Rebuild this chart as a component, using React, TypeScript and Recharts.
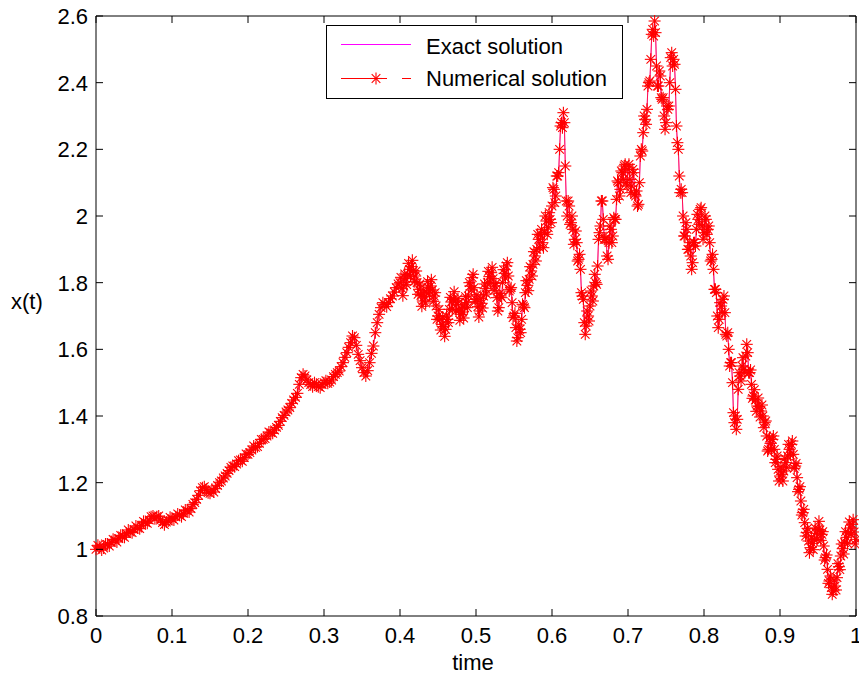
import React from "react";
import { LineChart, Line, XAxis, YAxis } from "recharts";

// [time, x(t)], split into stretches
const rampSegment: [number, number][] = [
  [0.0, 1.0], [0.0025, 1.012], [0.005, 1.008], [0.0075, 0.998], [0.01, 1.004],
  [0.0125, 1.016], [0.015, 1.015], [0.0175, 1.01], [0.02, 1.02], [0.0225, 1.03],
  [0.025, 1.028], [0.0275, 1.022], [0.03, 1.032], [0.0325, 1.042], [0.035, 1.04],
  [0.0375, 1.036], [0.04, 1.047], [0.0425, 1.058], [0.045, 1.052], [0.0475, 1.05],
  [0.05, 1.06], [0.0525, 1.07], [0.055, 1.064], [0.0575, 1.062], [0.06, 1.072],
  [0.0625, 1.084], [0.065, 1.08], [0.0675, 1.078], [0.07, 1.088], [0.0725, 1.098],
  [0.075, 1.1], [0.0775, 1.092], [0.08, 1.098], [0.0825, 1.1], [0.085, 1.088],
  [0.0875, 1.08], [0.09, 1.074], [0.0925, 1.082], [0.095, 1.085], [0.0975, 1.096],
  [0.1, 1.092], [0.1025, 1.088], [0.105, 1.098], [0.1075, 1.106], [0.11, 1.102],
  [0.1125, 1.098], [0.115, 1.108], [0.1175, 1.118], [0.12, 1.116], [0.1225, 1.112],
  [0.125, 1.122], [0.1275, 1.135], [0.13, 1.14], [0.1325, 1.15], [0.135, 1.162],
  [0.1375, 1.176], [0.14, 1.185], [0.1425, 1.188], [0.145, 1.178], [0.1475, 1.17],
  [0.15, 1.168], [0.1525, 1.18], [0.155, 1.172], [0.1575, 1.182], [0.16, 1.192],
  [0.1625, 1.2], [0.165, 1.205], [0.1675, 1.214], [0.17, 1.22], [0.1725, 1.228],
  [0.175, 1.236], [0.1775, 1.246], [0.18, 1.25], [0.1825, 1.248], [0.185, 1.256],
  [0.1875, 1.266], [0.19, 1.268], [0.1925, 1.264], [0.195, 1.275], [0.1975, 1.286],
  [0.2, 1.285], [0.2025, 1.29], [0.205, 1.298], [0.2075, 1.31], [0.21, 1.306],
  [0.2125, 1.308], [0.215, 1.318], [0.2175, 1.33], [0.22, 1.33], [0.2225, 1.332],
  [0.225, 1.34], [0.2275, 1.352], [0.23, 1.35], [0.2325, 1.348], [0.235, 1.358],
  [0.2375, 1.366], [0.24, 1.372], [0.2425, 1.384], [0.245, 1.395], [0.2475, 1.402],
  [0.25, 1.412], [0.2525, 1.418], [0.255, 1.425], [0.2575, 1.438], [0.26, 1.448],
  [0.2625, 1.456], [0.265, 1.468], [0.2675, 1.495], [0.27, 1.515], [0.2725, 1.525],
  [0.275, 1.52], [0.2775, 1.508], [0.28, 1.5], [0.2825, 1.494], [0.285, 1.488],
  [0.2875, 1.5], [0.29, 1.495], [0.2925, 1.488], [0.295, 1.485], [0.2975, 1.494],
  [0.3, 1.5], [0.3025, 1.506], [0.305, 1.498], [0.3075, 1.502], [0.31, 1.508],
  [0.3125, 1.518], [0.315, 1.525], [0.3175, 1.53], [0.32, 1.535], [0.3225, 1.548],
  [0.325, 1.56], [0.3275, 1.576], [0.33, 1.59], [0.3325, 1.606], [0.335, 1.62],
  [0.3375, 1.64], [0.34, 1.635], [0.3425, 1.612], [0.345, 1.585], [0.3475, 1.566],
  [0.35, 1.545], [0.3525, 1.53], [0.355, 1.52], [0.3575, 1.536], [0.36, 1.56],
  [0.3625, 1.588], [0.365, 1.61], [0.3675, 1.65], [0.37, 1.68], [0.3725, 1.705],
  [0.375, 1.725], [0.3775, 1.74], [0.38, 1.735], [0.3825, 1.728], [0.385, 1.74],
  [0.3875, 1.752], [0.39, 1.76], [0.3925, 1.772], [0.395, 1.785], [0.3975, 1.796],
];

const plateauSegment: [number, number][] = [
  [0.4, 1.8], [0.4025, 1.782], [0.405, 1.79], [0.4075, 1.812], [0.41, 1.825],
  [0.4125, 1.84], [0.415, 1.848], [0.4175, 1.836], [0.42, 1.82], [0.4225, 1.8],
  [0.425, 1.78], [0.4275, 1.762], [0.43, 1.745], [0.4325, 1.758], [0.435, 1.77],
  [0.4375, 1.785], [0.44, 1.79], [0.4425, 1.778], [0.445, 1.76], [0.4475, 1.73],
  [0.45, 1.7], [0.4525, 1.69], [0.455, 1.675], [0.4575, 1.668], [0.46, 1.66],
  [0.4625, 1.69], [0.465, 1.72], [0.4675, 1.742], [0.47, 1.75], [0.4725, 1.745],
  [0.475, 1.735], [0.4775, 1.718], [0.48, 1.705], [0.4825, 1.712], [0.485, 1.725],
  [0.4875, 1.74], [0.49, 1.76], [0.4925, 1.79], [0.495, 1.815], [0.4975, 1.785],
  [0.5, 1.75], [0.5025, 1.728], [0.505, 1.715], [0.5075, 1.738], [0.51, 1.76],
  [0.5125, 1.782], [0.515, 1.8], [0.5175, 1.818], [0.52, 1.83], [0.5225, 1.812],
  [0.525, 1.79], [0.5275, 1.755], [0.53, 1.725], [0.5325, 1.76], [0.535, 1.8],
  [0.5375, 1.828], [0.54, 1.85], [0.5425, 1.82], [0.545, 1.78], [0.5475, 1.74],
  [0.55, 1.7], [0.5525, 1.665], [0.555, 1.635], [0.5575, 1.66], [0.56, 1.69],
  [0.5625, 1.73], [0.565, 1.77], [0.5675, 1.792], [0.57, 1.81], [0.5725, 1.835],
  [0.575, 1.855], [0.5775, 1.88],
];

const plateauDetail: [number, number][] = [
  [0.40125, 1.816], [0.40375, 1.761], [0.40625, 1.826], [0.40875, 1.794], [0.41125, 1.858],
  [0.41375, 1.819], [0.41625, 1.867], [0.41875, 1.803], [0.42125, 1.835], [0.42375, 1.765],
  [0.42625, 1.796], [0.42875, 1.729], [0.43125, 1.777], [0.43375, 1.739], [0.43625, 1.803],
  [0.43875, 1.763], [0.44125, 1.809], [0.44375, 1.744], [0.44625, 1.77], [0.44875, 1.69],
  [0.45125, 1.72], [0.45375, 1.658], [0.45625, 1.697], [0.45875, 1.639], [0.46125, 1.7],
  [0.46375, 1.68], [0.46625, 1.756], [0.46875, 1.721], [0.47125, 1.773], [0.47375, 1.715],
  [0.47625, 1.752], [0.47875, 1.687], [0.48125, 1.734], [0.48375, 1.694], [0.48625, 1.758],
  [0.48875, 1.725], [0.49125, 1.8], [0.49375, 1.778], [0.49625, 1.825], [0.49875, 1.743],
  [0.50125, 1.764], [0.50375, 1.697], [0.50625, 1.752], [0.50875, 1.724], [0.51125, 1.796],
  [0.51375, 1.766], [0.51625, 1.834], [0.51875, 1.799], [0.52125, 1.846], [0.52375, 1.776],
  [0.52625, 1.798], [0.52875, 1.715], [0.53125, 1.768], [0.53375, 1.755], [0.53625, 1.839],
  [0.53875, 1.814], [0.54125, 1.86], [0.54375, 1.775], [0.54625, 1.785], [0.54875, 1.695],
  [0.55125, 1.708], [0.55375, 1.625], [0.55625, 1.673], [0.55875, 1.65], [0.56125, 1.735],
  [0.56375, 1.725], [0.56625, 1.806], [0.56875, 1.776], [0.57125, 1.848], [0.57375, 1.82],
  [0.57625, 1.893], [0.57875, 1.865],
];

const peakSegment: [number, number][] = [
  [0.58, 1.9], [0.5825, 1.93], [0.585, 1.945], [0.5875, 1.92], [0.59, 1.95],
  [0.5925, 1.985], [0.595, 1.965], [0.5975, 1.99], [0.6, 2.03], [0.6025, 2.08],
  [0.605, 2.06], [0.6075, 2.12], [0.61, 2.2], [0.6125, 2.28], [0.615, 2.31],
  [0.6175, 2.15], [0.62, 2.0], [0.6225, 2.03], [0.625, 1.98], [0.6275, 1.96],
  [0.63, 1.93], [0.6325, 1.92], [0.635, 1.87], [0.6375, 1.84], [0.64, 1.76],
  [0.6425, 1.68], [0.645, 1.67], [0.6475, 1.7], [0.65, 1.73], [0.6525, 1.76],
  [0.655, 1.79], [0.6575, 1.8], [0.66, 1.85], [0.6625, 1.95], [0.665, 2.045],
  [0.6675, 1.99], [0.67, 1.93], [0.6725, 1.88], [0.675, 1.92], [0.6775, 1.96],
  [0.68, 1.94], [0.6825, 1.99], [0.685, 2.05], [0.6875, 2.1], [0.69, 2.08],
  [0.6925, 2.13], [0.695, 2.15], [0.6975, 2.1], [0.7, 2.14], [0.7025, 2.11],
  [0.705, 2.09], [0.7075, 2.13], [0.71, 2.06], [0.7125, 2.03], [0.715, 2.1],
  [0.7175, 2.2], [0.72, 2.25], [0.7225, 2.29], [0.725, 2.32], [0.7275, 2.4],
  [0.73, 2.47], [0.7325, 2.56], [0.735, 2.585], [0.7375, 2.45], [0.74, 2.39],
  [0.7425, 2.42], [0.745, 2.35], [0.7475, 2.3], [0.75, 2.28], [0.7525, 2.32],
  [0.755, 2.4], [0.7575, 2.49], [0.76, 2.47], [0.7625, 2.38], [0.765, 2.22],
  [0.7675, 2.12], [0.77, 2.08], [0.7725, 2.0], [0.775, 1.94], [0.7775, 1.96],
  [0.78, 1.9], [0.7825, 1.88], [0.785, 1.86], [0.7875, 1.92], [0.79, 1.96],
  [0.7925, 1.99], [0.795, 2.02], [0.7975, 1.97], [0.8, 1.95], [0.8025, 1.99],
  [0.805, 1.96], [0.8075, 1.92], [0.81, 1.87], [0.8125, 1.84], [0.815, 1.78],
  [0.8175, 1.7], [0.82, 1.69], [0.8225, 1.73], [0.825, 1.75], [0.8275, 1.71],
  [0.83, 1.64], [0.8325, 1.6], [0.835, 1.56], [0.8375, 1.5], [0.84, 1.38],
  [0.8425, 1.36], [0.845, 1.48], [0.8475, 1.52], [0.85, 1.55], [0.8525, 1.54],
  [0.855, 1.58], [0.8575, 1.59], [0.86, 1.53],
];

const peakDetail: [number, number][] = [
  [0.58125, 1.945], [0.58375, 1.905], [0.58625, 1.96], [0.58875, 1.905], [0.59125, 2.0],
  [0.59375, 1.945], [0.59625, 2.01], [0.59875, 1.98], [0.60125, 2.085], [0.60375, 2.04],
  [0.60625, 2.12], [0.60875, 2.13], [0.61125, 2.27], [0.61375, 2.265], [0.61625, 2.28],
  [0.61875, 2.045], [0.62125, 2.045], [0.62375, 1.975], [0.62625, 2.0], [0.62875, 1.915],
  [0.63125, 1.955], [0.63375, 1.865], [0.63625, 1.885], [0.63875, 1.77], [0.64125, 1.75],
  [0.64375, 1.645], [0.64625, 1.715], [0.64875, 1.685], [0.65125, 1.775], [0.65375, 1.745],
  [0.65625, 1.825], [0.65875, 1.795], [0.66125, 1.93], [0.66375, 1.97], [0.66625, 2.045],
  [0.66875, 1.93], [0.67125, 1.935], [0.67375, 1.87], [0.67625, 1.97], [0.67875, 1.92],
  [0.68125, 1.995], [0.68375, 1.99], [0.68625, 2.105], [0.68875, 2.06], [0.69125, 2.135],
  [0.69375, 2.11], [0.69625, 2.155], [0.69875, 2.09], [0.70125, 2.155], [0.70375, 2.07],
  [0.70625, 2.14], [0.70875, 2.065], [0.71125, 2.075], [0.71375, 2.035], [0.71625, 2.18],
  [0.71875, 2.195], [0.72125, 2.3], [0.72375, 2.275], [0.72625, 2.39], [0.72875, 2.405],
  [0.73125, 2.545], [0.73375, 2.54], [0.73625, 2.55], [0.73875, 2.39], [0.74125, 2.435],
  [0.74375, 2.355], [0.74625, 2.355], [0.74875, 2.26], [0.75125, 2.33], [0.75375, 2.33],
  [0.75625, 2.475], [0.75875, 2.45], [0.76125, 2.455], [0.76375, 2.27], [0.76625, 2.2],
  [0.76875, 2.07], [0.77125, 2.07], [0.77375, 1.94], [0.77625, 1.98], [0.77875, 1.9],
  [0.78125, 1.92], [0.78375, 1.84], [0.78625, 1.92], [0.78875, 1.91], [0.79125, 2.005],
  [0.79375, 1.975], [0.79625, 2.025], [0.79875, 1.93], [0.80125, 2.0], [0.80375, 1.945],
  [0.80625, 1.97], [0.80875, 1.865], [0.81125, 1.885], [0.81375, 1.78], [0.81625, 1.77],
  [0.81875, 1.665], [0.82125, 1.74], [0.82375, 1.71], [0.82625, 1.76], [0.82875, 1.645],
  [0.83125, 1.65], [0.83375, 1.55], [0.83625, 1.56], [0.83875, 1.41], [0.84125, 1.4],
  [0.84375, 1.39], [0.84625, 1.53], [0.84875, 1.505], [0.85125, 1.575], [0.85375, 1.53],
  [0.85625, 1.615], [0.85875, 1.53],
];

const fallSegment: [number, number][] = [
  [0.8625, 1.495], [0.865, 1.46], [0.8675, 1.448], [0.87, 1.43], [0.8725, 1.428],
  [0.875, 1.415], [0.8775, 1.4], [0.88, 1.38], [0.8825, 1.34], [0.885, 1.3],
  [0.8875, 1.318], [0.89, 1.33], [0.8925, 1.3], [0.895, 1.27], [0.8975, 1.24],
  [0.9, 1.22], [0.9025, 1.225], [0.905, 1.235], [0.9075, 1.26], [0.91, 1.28],
  [0.9125, 1.3], [0.915, 1.315], [0.9175, 1.285], [0.92, 1.25], [0.9225, 1.215],
  [0.925, 1.18], [0.9275, 1.145], [0.93, 1.11], [0.9325, 1.08], [0.935, 1.05],
  [0.9375, 1.025], [0.94, 1.005], [0.9425, 1.018], [0.945, 1.03], [0.9475, 1.048],
  [0.95, 1.06], [0.9525, 1.058], [0.955, 1.045], [0.9575, 1.01], [0.96, 0.975],
  [0.9625, 0.94], [0.965, 0.905], [0.9675, 0.885], [0.97, 0.875], [0.9725, 0.89],
  [0.975, 0.915], [0.9775, 0.948], [0.98, 0.98], [0.9825, 1.002], [0.985, 1.02],
  [0.9875, 1.036], [0.99, 1.05], [0.9925, 1.064], [0.995, 1.075], [0.9975, 1.052],
  [1.0, 1.03],
];

const fallDetail: [number, number][] = [
  [0.86125, 1.538], [0.86375, 1.453], [0.86625, 1.479], [0.86875, 1.414], [0.87125, 1.454],
  [0.87375, 1.397], [0.87625, 1.433], [0.87875, 1.365], [0.88125, 1.385], [0.88375, 1.295],
  [0.88625, 1.334], [0.88875, 1.299], [0.89125, 1.34], [0.89375, 1.26], [0.89625, 1.28],
  [0.89875, 1.205], [0.90125, 1.248], [0.90375, 1.205], [0.90625, 1.273], [0.90875, 1.245],
  [0.91125, 1.315], [0.91375, 1.283], [0.91625, 1.325], [0.91875, 1.243], [0.92125, 1.258],
  [0.92375, 1.173], [0.92625, 1.188], [0.92875, 1.103], [0.93125, 1.12], [0.93375, 1.04],
  [0.93625, 1.063], [0.93875, 0.99], [0.94125, 1.037], [0.94375, 0.999], [0.94625, 1.064],
  [0.94875, 1.029], [0.95125, 1.084], [0.95375, 1.027], [0.95625, 1.053], [0.95875, 0.968],
  [0.96125, 0.983], [0.96375, 0.898], [0.96625, 0.92], [0.96875, 0.865], [0.97125, 0.908],
  [0.97375, 0.878], [0.97625, 0.957], [0.97875, 0.939], [0.98125, 1.016], [0.98375, 0.986],
  [0.98625, 1.053], [0.98875, 1.018], [0.99125, 1.082], [0.99375, 1.045], [0.99625, 1.089],
  [0.99875, 1.016],
];

const xTicks = [0, 0.1, 0.2, 0.3, 0.4, 0.5, 0.6, 0.7, 0.8, 0.9, 1];
const yTicks = [0.8, 1, 1.2, 1.4, 1.6, 1.8, 2, 2.2, 2.4, 2.6];

const rows = [
  ...rampSegment,
  ...plateauSegment,
  ...plateauDetail,
  ...peakSegment,
  ...peakDetail,
  ...fallSegment,
  ...fallDetail,
]
  .sort((a, b) => a[0] - b[0])
  .map(([t, v]) => ({ t, exact: v, num: v }));

const font = "'Liberation Sans', Arial, Helvetica, sans-serif";
const red = "#ff0000";
const magenta = "#ff00ff";
const fmt = (v: number) => String(Number(v.toFixed(1)));

function Star({ cx, cy }: { cx?: number; cy?: number }) {
  if (cx == null || cy == null) return null;
  const r = 6;
  const d = 4.3;
  return (
    <g stroke={red} strokeWidth={1.1}>
      <line x1={cx - r} y1={cy} x2={cx + r} y2={cy} />
      <line x1={cx} y1={cy - r} x2={cx} y2={cy + r} />
      <line x1={cx - d} y1={cy - d} x2={cx + d} y2={cy + d} />
      <line x1={cx - d} y1={cy + d} x2={cx + d} y2={cy - d} />
    </g>
  );
}

function BottomTick({ x, y, payload }: any) {
  return (
    <g>
      <line x1={x} y1={y} x2={x} y2={y - 7} stroke="#000" />
      <text x={x} y={y + 27} textAnchor="middle" fontSize={22} fontFamily={font} fill="#000">
        {fmt(payload.value)}
      </text>
    </g>
  );
}

function TopTick({ x, y }: any) {
  return <line x1={x} y1={y} x2={x} y2={y + 7} stroke="#000" />;
}

function LeftTick({ x, y, payload }: any) {
  return (
    <g>
      <line x1={x} y1={y} x2={x + 7} y2={y} stroke="#000" />
      <text x={x - 8} y={y + 8} textAnchor="end" fontSize={22} fontFamily={font} fill="#000">
        {fmt(payload.value)}
      </text>
    </g>
  );
}

function RightTick({ x, y }: any) {
  return <line x1={x} y1={y} x2={x - 7} y2={y} stroke="#000" />;
}

function Legend() {
  return (
    <svg
      width={298}
      height={75}
      style={{ position: "absolute", left: 326, top: 25 }}
      fontFamily={font}
      fontSize={22}
    >
      <rect x={0.5} y={0.5} width={296} height={73} fill="#fff" stroke="#000" />
      <line x1={15} y1={19.5} x2={85} y2={19.5} stroke={magenta} />
      <text x={100} y={29} fill="#000">Exact solution</text>
      <line x1={15} y1={53.5} x2={61} y2={53.5} stroke={red} />
      <line x1={76} y1={53.5} x2={85} y2={53.5} stroke={red} />
      <Star cx={50} cy={53.5} />
      <text x={100} y={61} fill="#000">Numerical solution</text>
    </svg>
  );
}

export default function App() {
  return (
    <div style={{ position: "absolute", left: 0, top: 0, width: 859, height: 677, background: "#fff" }}>
      <LineChart width={859} height={677} data={rows} margin={{ top: 0, right: 0, bottom: 0, left: 0 }}>
        <XAxis
          dataKey="t"
          type="number"
          domain={[0, 1]}
          ticks={xTicks}
          interval={0}
          height={61}
          tickSize={0}
          tickMargin={0}
          tickLine={false}
          tick={<BottomTick />}
          axisLine={{ stroke: "#000" }}
        />
        <XAxis
          xAxisId="top"
          orientation="top"
          dataKey="t"
          type="number"
          domain={[0, 1]}
          ticks={xTicks}
          interval={0}
          height={16}
          tickSize={0}
          tickMargin={0}
          tickLine={false}
          tick={<TopTick />}
          axisLine={{ stroke: "#000" }}
        />
        <YAxis
          type="number"
          domain={[0.8, 2.6]}
          ticks={yTicks}
          interval={0}
          width={96}
          tickSize={0}
          tickMargin={0}
          tickLine={false}
          tick={<LeftTick />}
          axisLine={{ stroke: "#000" }}
        />
        <YAxis
          yAxisId="right"
          orientation="right"
          type="number"
          domain={[0.8, 2.6]}
          ticks={yTicks}
          interval={0}
          width={3}
          tickSize={0}
          tickMargin={0}
          tickLine={false}
          tick={<RightTick />}
          axisLine={{ stroke: "#000" }}
        />
        <Line
          xAxisId="top"
          yAxisId="right"
          dataKey="exact"
          type="linear"
          stroke={magenta}
          strokeWidth={0.8}
          dot={false}
          activeDot={false}
          isAnimationActive={false}
        />
        <Line
          dataKey="num"
          type="linear"
          stroke={red}
          strokeWidth={0.7}
          dot={(p: any) => <Star key={p.index} cx={p.cx} cy={p.cy} />}
          activeDot={false}
          isAnimationActive={false}
        />
      </LineChart>
      <Legend />
      <div style={{ position: "absolute", left: 11, top: 289, fontFamily: font, fontSize: 22, lineHeight: "26px" }}>
        x(t)
      </div>
      <div
        style={{
          position: "absolute",
          left: 373,
          width: 200,
          top: 650,
          textAlign: "center",
          fontFamily: font,
          fontSize: 22,
          lineHeight: "26px",
        }}
      >
        time
      </div>
    </div>
  );
}
